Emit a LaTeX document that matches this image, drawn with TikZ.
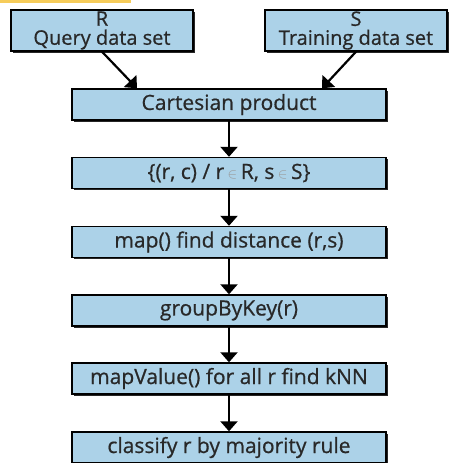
\documentclass[tikz,border=0pt]{standalone}
\usepackage{fontspec}
\setmainfont{Open Sans}[FakeBold=0.7]
\usetikzlibrary{arrows.meta,shadows}

\definecolor{boxblue}{RGB}{172,210,232}
\definecolor{txtgray}{RGB}{40,40,40}
\definecolor{tabgold}{RGB}{246,204,90}

\begin{document}
\begin{tikzpicture}[x=1pt,y=-1pt,
    step box/.style={draw=black, line width=1.4pt, fill=boxblue,
      text=txtgray, font=\fontsize{21}{22}\selectfont,
      minimum width=314pt, minimum height=31pt, inner sep=0pt,
      drop shadow={shadow xshift=1.6pt, shadow yshift=-1.6pt, opacity=0.85, fill=black}},
    data box/.style={step box, font=\fontsize{20}{19}\selectfont,
      minimum width=182pt, minimum height=41pt, align=center},
    flow/.style={line width=2.2pt, -{Triangle[length=10pt,width=17pt]}}]
  \useasboundingbox (0,0) rectangle (456,463);
  \fill[tabgold] (0,0) rectangle (131,3);

  \node[data box] (R) at (102,30.5) {R\\Query data set};
  \node[data box] (S) at (356,30.5) {S\\Training data set};
  \node[step box] (cart) at (229,104.5) {Cartesian product};
  \node[step box] (pairs) at (229,173) {\{(r, c) / r\,{\color{black!40}$\scriptstyle\in$}\,R, s\,{\color{black!40}$\scriptstyle\in$}\,S\}};
  \node[step box] (dist) at (229,242) {map() find distance (r,s)};
  \node[step box] (group) at (229,310.5) {groupByKey(r)};
  \node[step box] (knn) at (229,378.5) {mapValue() for all r find kNN};
  \node[step box] (vote) at (229,447.5) {classify r by majority rule};

  \draw[flow] (R.south) -- ([xshift=-92pt]cart.north);
  \draw[flow] (S.south) -- ([xshift=93pt]cart.north);
  \draw[flow] (cart) -- (pairs);
  \draw[flow] (pairs) -- (dist);
  \draw[flow] (dist) -- (group);
  \draw[flow] (group) -- (knn);
  \draw[flow] (knn) -- (vote);
\end{tikzpicture}
\end{document}
